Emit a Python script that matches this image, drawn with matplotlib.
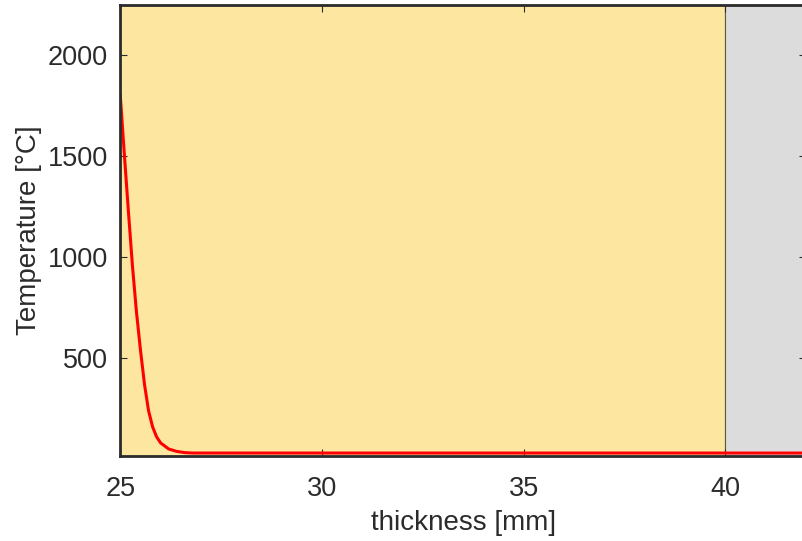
import numpy as np
import matplotlib
matplotlib.use('Agg')
from matplotlib import pyplot as plt

# temperature profile through the layers
thickness = [25.0, 25.1, 25.2, 25.3, 25.4, 25.5, 25.6, 25.7, 25.8, 25.9, 26.0,
             26.2, 26.4, 26.6, 26.8, 27.0, 28.0, 30.0, 35.0, 40.0, 42.0]
temperature = [1800, 1510, 1230, 960, 730, 540, 370, 240, 160, 110, 80,
               50, 38, 32, 30, 30, 30, 30, 30, 30, 30]

# layers: (start, end) in mm
layers = [(25, 40), (40, 42)]
layer_colors = ['#FDE6A0', '#DCDCDC']

xticks = [25, 30, 35, 40]
yticks = [500, 1000, 1500, 2000]

plt.rcParams['font.family'] = ['Liberation Sans', 'DejaVu Sans']
txt = '#2b2b2b'

fig = plt.figure(figsize=(8.02, 5.41), dpi=100)
ax = fig.add_axes([0.150, 0.157, 0.855, 0.834])

for (a, b), c in zip(layers, layer_colors):
    ax.axvspan(a, b, facecolor=c, edgecolor='#5a5a4a', linewidth=0.8, zorder=0)

ax.plot(thickness, temperature, color='#FF0000', linewidth=2.2, zorder=3)

ax.set_xlim(25, 42)
ax.set_ylim(15, 2250)
ax.set_xticks(xticks)
ax.set_yticks(yticks)
ax.tick_params(direction='in', top=True, right=True, length=5, width=0.8,
               color=txt, labelcolor=txt, labelsize=19.5)
ax.tick_params(axis='x', pad=14)
ax.tick_params(axis='y', pad=9)
for s in ax.spines.values():
    s.set_linewidth(2)
    s.set_color(txt)
    s.set_zorder(5)

ax.set_xlabel('thickness [mm]', fontsize=20, color=txt, labelpad=6)
ax.set_ylabel('Temperature [°C]', fontsize=20, color=txt, labelpad=4)

fig.savefig('out.png', dpi=100)
